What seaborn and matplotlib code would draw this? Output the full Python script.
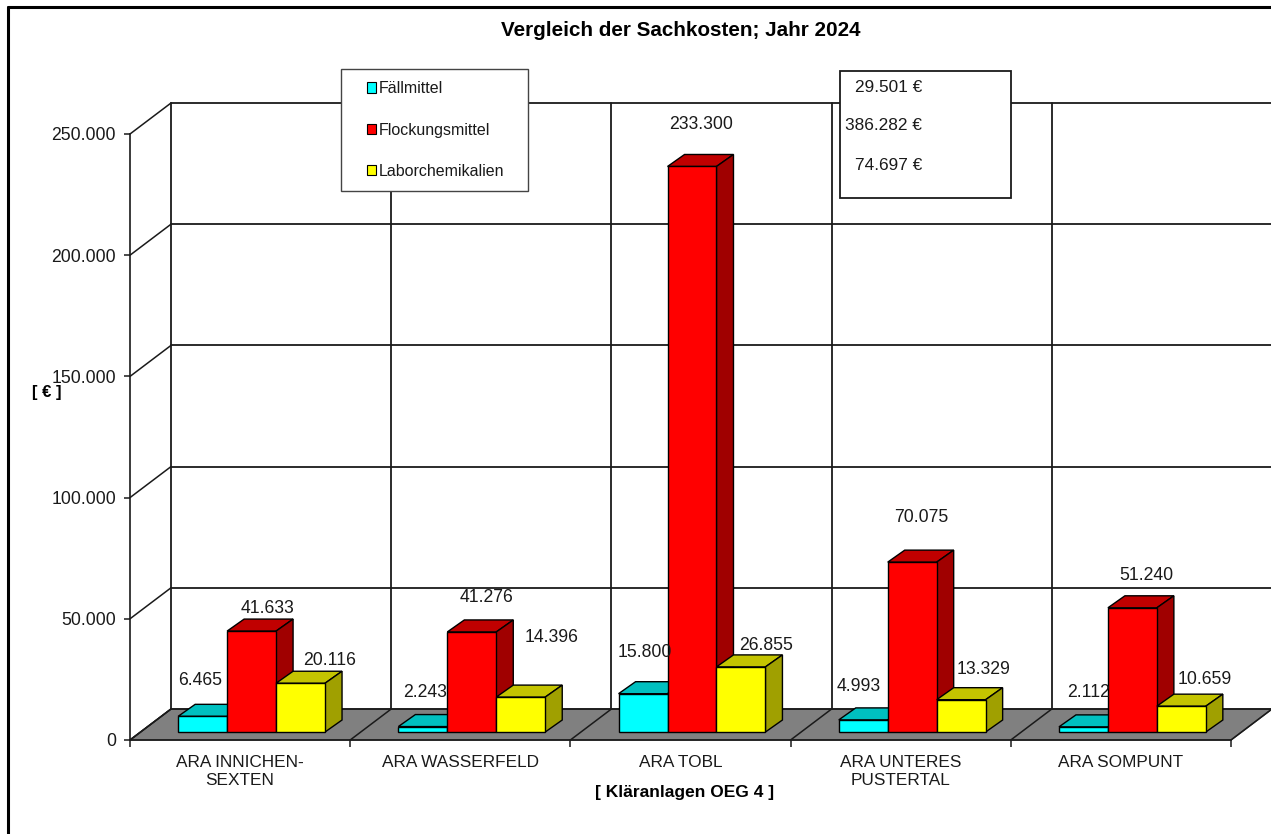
import matplotlib
matplotlib.use("Agg")
import matplotlib.pyplot as plt
import pandas as pd
import seaborn as sns
from matplotlib.lines import Line2D
from matplotlib.patches import Patch, Polygon, Rectangle
from matplotlib.transforms import Affine2D

plants = ["ARA INNICHEN-\nSEXTEN", "ARA WASSERFELD", "ARA TOBL", "ARA UNTERES\nPUSTERTAL", "ARA SOMPUNT"]
faellmittel = [6465, 2243, 15800, 4993, 2112]
flockungsmittel = [41633, 41276, 233300, 70075, 51240]
laborchemikalien = [20116, 14396, 26855, 13329, 10659]
totals = [29501, 386282, 74697]
series_names = ["Fällmittel", "Flockungsmittel", "Laborchemikalien"]
front_colors = ["#00FFFF", "#FF0000", "#FFFF00"]
top_colors = ["#00C0C0", "#C00000", "#C4C400"]
side_colors = ["#009C9C", "#A00000", "#A0A000"]
y_ticks = [0, 50000, 100000, 150000, 200000, 250000]

# label offsets from the top centre of each bar, in pixels
label_dx = [[-3, 2, 2, -5, 5], [16, 15, 9, 9, 14], [29, 31, 25, 22, 23]]
label_dy = [[36, 34, 41, 33, 34], [23, 34, 42, 45, 32], [23, 60, 21, 30, 27]]

W, H = 1271, 834
plt.rcdefaults()
sns.set_theme(style="white")
plt.rcParams["font.family"] = ["Liberation Sans", "DejaVu Sans"]
INK = "#1a1a1a"


def fmt(v):
    return f"{v:,}".replace(",", ".")


def rect(l, r, top, bottom):
    return [l / W, 1 - bottom / H, (r - l) / W, (bottom - top) / H]


fig = plt.figure(figsize=(W / 100, H / 100), dpi=100, facecolor="white")

# --- axis frame, walls and floor ---
ax = fig.add_axes(rect(130, 1231, 134, 740), facecolor="none", zorder=0)
ax.set_xlim(-0.5, 4.5)
ax.set_ylim(0, 250000)
depth = ax.transData + Affine2D().translate(41, 31)
bounds = [i - 0.5 for i in range(6)]
ax.add_patch(Polygon([(-0.5, 0), (4.5, 0), (4.5 + 41 / 220.2, 31 / 606 * 250000), (-0.5 + 41 / 220.2, 31 / 606 * 250000)],
                     closed=True, facecolor="#808080", edgecolor="#404040", lw=1, clip_on=False, zorder=1))
for t in y_ticks:
    ax.plot([-0.5, 5.0], [t, t], transform=depth, color=INK, lw=1.3, clip_on=False, zorder=2)
    ax.plot([-0.5, -0.5 + 41 / 220.2], [t, t + 31 / 606 * 250000], color=INK, lw=1.1, clip_on=False, zorder=2)
for b in bounds:
    ax.plot([b, b], [0, 250000], transform=depth, color=INK, lw=1.3, clip_on=False, zorder=2)
    ax.plot([b, b + 41 / 220.2], [0, 31 / 606 * 250000], color=INK, lw=1.1, clip_on=False, zorder=3)
for s in ["top", "right"]:
    ax.spines[s].set_visible(False)
for s in ["left", "bottom"]:
    ax.spines[s].set_color(INK)
    ax.spines[s].set_linewidth(1.2)
ax.set_yticks(y_ticks, [fmt(t) for t in y_ticks])
ax.set_xticks(bounds, [""] * 6)
ax.set_xticks(range(5), plants, minor=True)
ax.tick_params(axis="y", length=4, width=1.1, color=INK, labelsize=12.7, labelcolor=INK, pad=6, left=True)
ax.tick_params(axis="x", which="major", length=5, width=1.1, color=INK, bottom=True)
ax.tick_params(axis="x", which="minor", length=0, labelsize=12.4, labelcolor=INK, pad=10.5)
for lab in ax.get_xticklabels(minor=True):
    lab.set_linespacing(1.3)

# --- bars ---
df = pd.DataFrame({
    "plant": plants * 3,
    "series": [n for n in series_names for _ in plants],
    "value": faellmittel + flockungsmittel + laborchemikalien,
})
bar_ax = fig.add_axes(rect(141.5, 1242.5, 126, 732), facecolor="none", zorder=1)
sns.barplot(data=df, x="plant", y="value", hue="series", order=plants, hue_order=series_names,
            palette=front_colors, saturation=1, width=0.667, gap=0, edgecolor="black", linewidth=1,
            legend=False, ax=bar_ax)
bar_ax.set_xlim(-0.5, 4.5)
bar_ax.set_ylim(0, 250000)
bar_ax.axis("off")
ddx, ddy = 17 / 220.2, 12 / 606 * 250000
for h, cont in enumerate(bar_ax.containers):
    for c, p in enumerate(cont.patches):
        x0, w, v = p.get_x(), p.get_width(), p.get_height()
        x1 = x0 + w
        z = 10 + 3 * c + h
        p.set_zorder(z + 0.5)
        p.set_clip_on(False)
        bar_ax.add_patch(Polygon([(x0, v), (x1, v), (x1 + ddx, v + ddy), (x0 + ddx, v + ddy)], closed=True,
                                 facecolor=top_colors[h], edgecolor="black", lw=1, clip_on=False, zorder=z))
        bar_ax.add_patch(Polygon([(x1, 0), (x1, v), (x1 + ddx, v + ddy), (x1 + ddx, ddy)], closed=True,
                                 facecolor=side_colors[h], edgecolor="black", lw=1, clip_on=False, zorder=z))
        bar_ax.annotate(fmt(int(v)), (x0 + w / 2, v),
                        xytext=(label_dx[h][c] * 0.72, label_dy[h][c] * 0.72), textcoords="offset points",
                        ha="center", va="center", fontsize=12.7, color=INK, zorder=100, annotation_clip=False)

# --- outer frame ---
fig.add_artist(Line2D([8 / W, 8 / W], [0, 1 - 7 / H], color="black", lw=2.2, zorder=6))
fig.add_artist(Line2D([8 / W, 1], [1 - 7 / H, 1 - 7 / H], color="black", lw=2.2, zorder=6))

# --- legend and total box ---
fig.add_artist(Rectangle((341 / W, 1 - 191 / H), 187 / W, 122 / H, transform=fig.transFigure,
                         facecolor="white", edgecolor="#444444", lw=1, zorder=4))
handles = [Patch(facecolor=c, edgecolor="black", lw=0.8) for c in front_colors]
fig.legend(handles, series_names, loc="upper left", bbox_to_anchor=(364 / W, 1 - 78 / H), frameon=False,
           fontsize=11.5, labelcolor=INK, handlelength=0.52, handleheight=0.62, handletextpad=0.18,
           labelspacing=1.65, borderpad=0.2, borderaxespad=0)
fig.add_artist(Rectangle((840 / W, 1 - 198 / H), 171 / W, 127 / H, transform=fig.transFigure,
                         facecolor="white", edgecolor=INK, lw=1.3, zorder=4))
for t, y in zip(totals, [87, 126, 165]):
    fig.text(922 / W, 1 - y / H, f"{fmt(t)} €", ha="right", va="center", fontsize=12.4, color=INK, zorder=5)

# --- titles ---
fig.text(681 / W, 1 - 30 / H, "Vergleich der Sachkosten; Jahr 2024", ha="center", va="center",
         fontsize=14.9, fontweight="bold", color="black", zorder=5)
fig.text(685 / W, 1 - 793 / H, "[ Kläranlagen OEG 4 ]", ha="center", va="center",
         fontsize=12.5, fontweight="bold", color="black", zorder=5)
fig.text(47 / W, 1 - 393 / H, "[ € ]", ha="center", va="center",
         fontsize=12, fontweight="bold", color="black", zorder=5)

fig.savefig("out.png", dpi=100)
